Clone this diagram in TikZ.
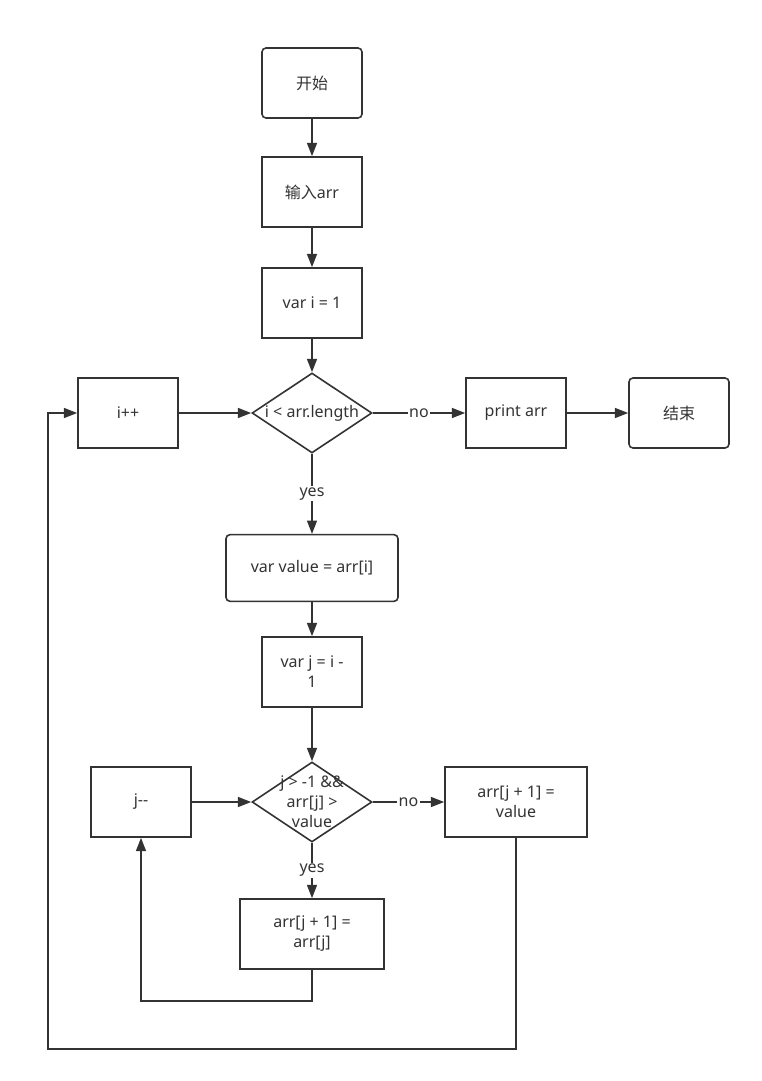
\documentclass[tikz,border=0pt]{standalone}
\usepackage{fontspec}
\setmainfont{Noto Sans}
\newfontfamily\cjk{Noto Sans CJK SC}
\usetikzlibrary{shapes.geometric,arrows.meta}
\definecolor{ink}{HTML}{333333}
\begin{document}
\begin{tikzpicture}[x=0.75pt,y=-0.75pt,
  every node/.style={font=\fontsize{12}{15}\selectfont,text=ink},
  box/.style={draw=ink,line width=1.2pt,minimum width=75pt,minimum height=52.5pt,align=center,inner sep=2pt},
  roundbox/.style={box,rounded corners=3pt},
  decision/.style={draw=ink,line width=1.2pt,diamond,minimum width=90pt,minimum height=60pt,inner sep=0pt},
  flow/.style={draw=ink,line width=1.1pt,-{Triangle[length=10pt,width=7.5pt]}},
  tag/.style={fill=white,inner sep=1pt}]
\useasboundingbox (0,0) rectangle (761,1081);
% Main column
\node[roundbox] (start) at (312,83) {\cjk 开始};
\node[box] (input) at (312,192) {\cjk 输入\normalfont arr};
\node[box] (initi) at (312,303) {var i = 1};
\node[decision,label={center:i < arr.length}] (outer) at (312,413) {};
\node[box] (incr) at (128,413) {i++};
\node[box] (print) at (516,413) {print arr};
\node[roundbox] (stop) at (679,413) {\cjk 结束};
\node[roundbox,minimum width=129pt,minimum height=50pt] (value) at (312,568) {var value = arr[i]};
\node[box] (initj) at (312,672) {var j = i -\\1};
\node[decision,label={[align=center]center:j > -1 \&\&\\arr[j] >\\value}] (inner) at (312,802) {};
\node[box] (decr) at (141,802) {j-{}-};
\node[box,minimum width=106.5pt] (put) at (516,802) {arr[j + 1] =\\value};
\node[box,minimum width=108pt] (shift) at (312,934) {arr[j + 1] =\\arr[j]};
% Connectors
\draw[flow] (start) -- (input);
\draw[flow] (input) -- (initi);
\draw[flow] (initi) -- (outer);
\draw[flow] (incr) -- (outer);
\draw[flow] (outer) -- node[tag]{no} (print);
\draw[flow] (print) -- (stop);
\draw[flow] (outer) -- node[tag]{yes} (value);
\draw[flow] (value) -- (initj);
\draw[flow] (initj) -- (inner);
\draw[flow] (decr) -- (inner);
\draw[flow] (inner) -- node[tag]{no} (put);
\draw[flow] (inner) -- node[tag]{yes} (shift);
% Loops back
\draw[flow] (shift.south) -- ++(0,31) -| (decr.south);
\draw[flow] (put.south) -- ++(0,211) -| (48,413) -- (incr.west);
\end{tikzpicture}
\end{document}
